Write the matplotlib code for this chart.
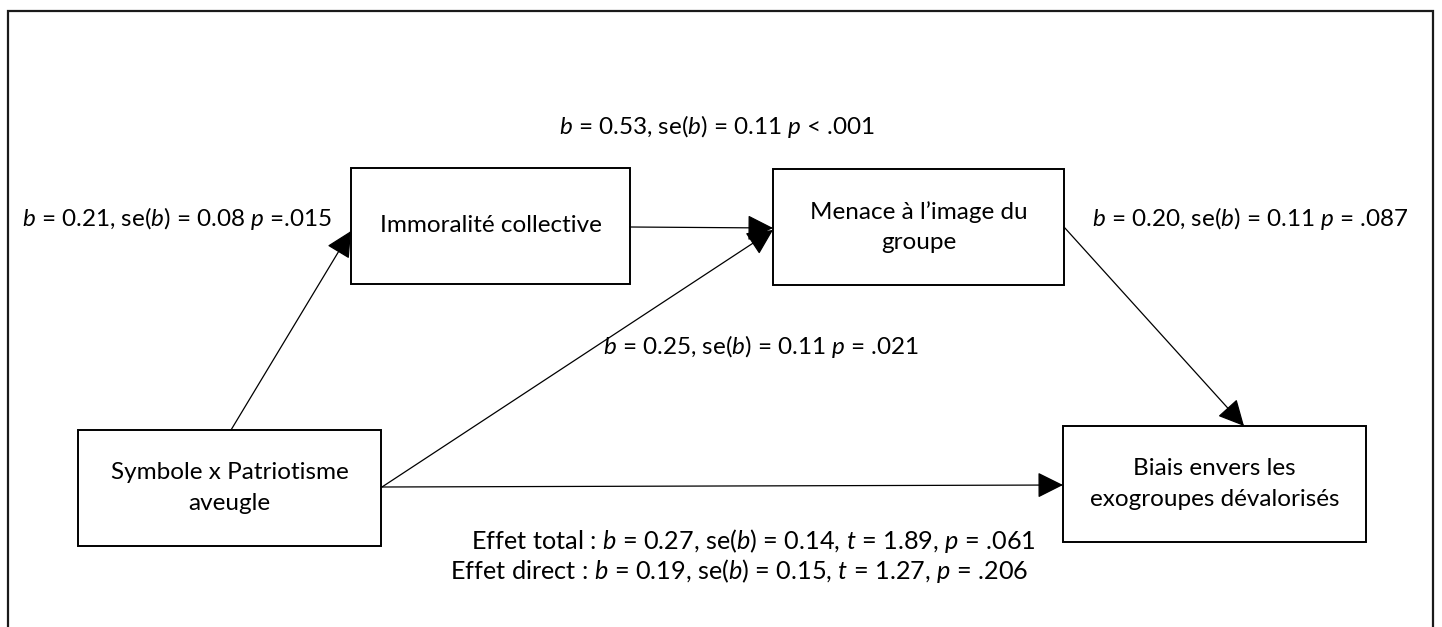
import matplotlib
matplotlib.use("Agg")
import matplotlib.pyplot as plt
from matplotlib.patches import Rectangle

plt.rcParams["font.family"] = ["Lato", "DejaVu Sans"]
plt.rcParams["mathtext.fontset"] = "custom"
plt.rcParams["mathtext.rm"] = "Lato"
plt.rcParams["mathtext.it"] = "Lato:italic"

# node labels
node_labels = [
    "Immoralité collective",
    "Menace à l\u2019image du\ngroupe",
    "Symbole x Patriotisme\naveugle",
    "Biais envers les\nexogroupes dévalorisés",
]

# path coefficients: b, se(b), p
path_b = ["0.21", "0.53", "0.20", "0.25"]
path_se = ["0.08", "0.11", "0.11", "0.11"]
path_p = ["=.015", "< .001", "= .087", "= .021"]

# total / direct effect
effect_names = ["Effet total", "Effet direct"]
effect_b = ["0.27", "0.19"]
effect_se = ["0.14", "0.15"]
effect_t = ["1.89", "1.27"]
effect_p = [".061", ".206"]

# layout (pixels, y downward)
boxes = [
    (351, 168, 279, 116),
    (773, 169, 291, 116),
    (78, 430, 303, 116),
    (1063, 426, 303, 116),
]
arrows = [
    ((231, 430), (351, 231)),
    ((630, 227), (773, 228)),
    ((1064, 227), (1244, 426)),
    ((382, 487), (773, 230)),
    ((382, 487), (1063, 485)),
]
path_label_pos = [
    (22, 219, "left"),
    (717, 127, "center"),
    (1092, 219, "left"),
    (603, 347, "left"),
]

fig = plt.figure(figsize=(14.42, 6.27), dpi=100)
ax = fig.add_axes([0, 0, 1, 1])
ax.set_xlim(0, 1442)
ax.set_ylim(627, 0)
ax.axis("off")

# outer frame (bottom edge cut off)
ax.plot([8, 8, 1433, 1433], [640, 11, 11, 640], color="#1a1a1a", lw=1.6,
        solid_joinstyle="miter", clip_on=False)

fs = 17.5
for (x, y, w, h), lab in zip(boxes, node_labels):
    ax.add_patch(Rectangle((x, y), w, h, fill=False, ec="black", lw=1.4))
    ax.text(x + w / 2, y + h / 2, lab, ha="center", va="center",
            fontsize=fs, linespacing=1.55)

for (x0, y0), (x1, y1) in arrows:
    ax.annotate("", xy=(x1, y1), xytext=(x0, y0),
                arrowprops=dict(arrowstyle="-|>,head_length=0.9,head_width=0.45",
                                color="black", lw=0.9, shrinkA=0, shrinkB=0,
                                mutation_scale=18))

for (x, y, ha), b, se, p in zip(path_label_pos, path_b, path_se, path_p):
    ax.text(x, y, f"$b$ = {b}, se($b$) = {se} $p$ {p}", ha=ha, va="center",
            fontsize=fs)

effect_pos = [(753, 541), (739, 571)]
for (x, y), n, b, se, t, p in zip(effect_pos, effect_names, effect_b,
                                  effect_se, effect_t, effect_p):
    ax.text(x, y, f"{n} : $b$ = {b}, se($b$) = {se}, $t$ = {t}, $p$ = {p}",
            ha="center", va="center", fontsize=18.2)

fig.savefig("out.png", dpi=100, facecolor="white")
